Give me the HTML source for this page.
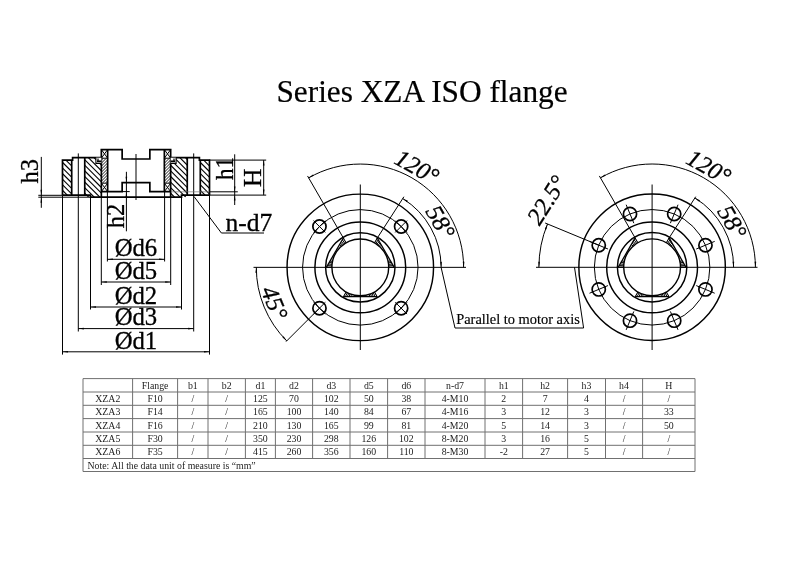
<!DOCTYPE html>
<html><head><meta charset="utf-8"><title>Series XZA ISO flange</title>
<style>
html,body{margin:0;padding:0;background:#fff;}
body{width:800px;height:566px;position:relative;overflow:hidden;font-family:"Liberation Serif",serif;}
svg{display:block;position:absolute;left:0;top:0;will-change:transform;opacity:0.999}
</style></head><body>
<svg width="800" height="566" viewBox="0 0 800 566" stroke="#000" fill="none">
<rect x="0" y="0" width="800" height="566" fill="#fff" stroke="none"/>
<text x="0" y="0" font-size="31.3" text-anchor="middle" font-family="'Liberation Serif', serif" fill="#000" stroke="#000" stroke-width="0.2"  transform="translate(422.00 102.40) rotate(0.00) scale(1 1)">Series XZA ISO flange</text>
<clipPath id="clip4"><path d="
M360.30 267.35 L394.20 267.35 L389.93 259.96 Z 
M360.30 267.35 L377.25 237.99 L381.52 245.38 Z 
M360.30 267.35 L343.35 237.99 L339.08 245.38 Z 
M360.30 267.35 L326.40 267.35 L330.67 259.96 Z 
M360.30 267.35 L343.35 296.71 L351.88 296.71 Z 
M360.30 267.35 L377.25 296.71 L368.72 296.71 Z 
"/></clipPath>
<g clip-path="url(#clip4)" stroke="#000">
<line x1="388.70" y1="267.35" x2="395.00" y2="267.35" stroke-width="1.0" />
<line x1="388.66" y1="265.86" x2="394.95" y2="265.53" stroke-width="1.0" />
<line x1="388.54" y1="264.38" x2="394.81" y2="263.72" stroke-width="1.0" />
<line x1="388.35" y1="262.91" x2="394.57" y2="261.92" stroke-width="1.0" />
<line x1="388.08" y1="261.45" x2="394.24" y2="260.14" stroke-width="1.0" />
<line x1="387.73" y1="260.00" x2="393.82" y2="258.37" stroke-width="1.0" />
<line x1="387.31" y1="258.57" x2="393.30" y2="256.63" stroke-width="1.0" />
<line x1="386.81" y1="257.17" x2="392.70" y2="254.91" stroke-width="1.0" />
<line x1="386.24" y1="255.80" x2="392.00" y2="253.24" stroke-width="1.0" />
<line x1="385.60" y1="254.46" x2="391.22" y2="251.60" stroke-width="1.0" />
<line x1="384.90" y1="253.15" x2="390.35" y2="250.00" stroke-width="1.0" />
<line x1="384.12" y1="251.88" x2="389.40" y2="248.45" stroke-width="1.0" />
<line x1="383.28" y1="250.66" x2="388.37" y2="246.95" stroke-width="1.0" />
<line x1="382.37" y1="249.48" x2="387.27" y2="245.51" stroke-width="1.0" />
<line x1="381.41" y1="248.35" x2="386.09" y2="244.13" stroke-width="1.0" />
<line x1="380.38" y1="247.27" x2="384.84" y2="242.81" stroke-width="1.0" />
<line x1="379.30" y1="246.24" x2="383.52" y2="241.56" stroke-width="1.0" />
<line x1="378.17" y1="245.28" x2="382.14" y2="240.38" stroke-width="1.0" />
<line x1="376.99" y1="244.37" x2="380.70" y2="239.28" stroke-width="1.0" />
<line x1="375.77" y1="243.53" x2="379.20" y2="238.25" stroke-width="1.0" />
<line x1="374.50" y1="242.75" x2="377.65" y2="237.30" stroke-width="1.0" />
<line x1="373.19" y1="242.05" x2="376.05" y2="236.43" stroke-width="1.0" />
<line x1="371.85" y1="241.41" x2="374.41" y2="235.65" stroke-width="1.0" />
<line x1="370.48" y1="240.84" x2="372.74" y2="234.95" stroke-width="1.0" />
<line x1="369.08" y1="240.34" x2="371.02" y2="234.35" stroke-width="1.0" />
<line x1="367.65" y1="239.92" x2="369.28" y2="233.83" stroke-width="1.0" />
<line x1="366.20" y1="239.57" x2="367.51" y2="233.41" stroke-width="1.0" />
<line x1="364.74" y1="239.30" x2="365.73" y2="233.08" stroke-width="1.0" />
<line x1="363.27" y1="239.11" x2="363.93" y2="232.84" stroke-width="1.0" />
<line x1="361.79" y1="238.99" x2="362.12" y2="232.70" stroke-width="1.0" />
<line x1="360.30" y1="238.95" x2="360.30" y2="232.65" stroke-width="1.0" />
<line x1="358.81" y1="238.99" x2="358.48" y2="232.70" stroke-width="1.0" />
<line x1="357.33" y1="239.11" x2="356.67" y2="232.84" stroke-width="1.0" />
<line x1="355.86" y1="239.30" x2="354.87" y2="233.08" stroke-width="1.0" />
<line x1="354.40" y1="239.57" x2="353.09" y2="233.41" stroke-width="1.0" />
<line x1="352.95" y1="239.92" x2="351.32" y2="233.83" stroke-width="1.0" />
<line x1="351.52" y1="240.34" x2="349.58" y2="234.35" stroke-width="1.0" />
<line x1="350.12" y1="240.84" x2="347.86" y2="234.95" stroke-width="1.0" />
<line x1="348.75" y1="241.41" x2="346.19" y2="235.65" stroke-width="1.0" />
<line x1="347.41" y1="242.05" x2="344.55" y2="236.43" stroke-width="1.0" />
<line x1="346.10" y1="242.75" x2="342.95" y2="237.30" stroke-width="1.0" />
<line x1="344.83" y1="243.53" x2="341.40" y2="238.25" stroke-width="1.0" />
<line x1="343.61" y1="244.37" x2="339.90" y2="239.28" stroke-width="1.0" />
<line x1="342.43" y1="245.28" x2="338.46" y2="240.38" stroke-width="1.0" />
<line x1="341.30" y1="246.24" x2="337.08" y2="241.56" stroke-width="1.0" />
<line x1="340.22" y1="247.27" x2="335.76" y2="242.81" stroke-width="1.0" />
<line x1="339.19" y1="248.35" x2="334.51" y2="244.13" stroke-width="1.0" />
<line x1="338.23" y1="249.48" x2="333.33" y2="245.51" stroke-width="1.0" />
<line x1="337.32" y1="250.66" x2="332.23" y2="246.95" stroke-width="1.0" />
<line x1="336.48" y1="251.88" x2="331.20" y2="248.45" stroke-width="1.0" />
<line x1="335.70" y1="253.15" x2="330.25" y2="250.00" stroke-width="1.0" />
<line x1="335.00" y1="254.46" x2="329.38" y2="251.60" stroke-width="1.0" />
<line x1="334.36" y1="255.80" x2="328.60" y2="253.24" stroke-width="1.0" />
<line x1="333.79" y1="257.17" x2="327.90" y2="254.91" stroke-width="1.0" />
<line x1="333.29" y1="258.57" x2="327.30" y2="256.63" stroke-width="1.0" />
<line x1="332.87" y1="260.00" x2="326.78" y2="258.37" stroke-width="1.0" />
<line x1="332.52" y1="261.45" x2="326.36" y2="260.14" stroke-width="1.0" />
<line x1="332.25" y1="262.91" x2="326.03" y2="261.92" stroke-width="1.0" />
<line x1="332.06" y1="264.38" x2="325.79" y2="263.72" stroke-width="1.0" />
<line x1="331.94" y1="265.86" x2="325.65" y2="265.53" stroke-width="1.0" />
<line x1="331.90" y1="267.35" x2="325.60" y2="267.35" stroke-width="1.0" />
<line x1="331.94" y1="268.84" x2="325.65" y2="269.17" stroke-width="1.0" />
<line x1="332.06" y1="270.32" x2="325.79" y2="270.98" stroke-width="1.0" />
<line x1="332.25" y1="271.79" x2="326.03" y2="272.78" stroke-width="1.0" />
<line x1="332.52" y1="273.25" x2="326.36" y2="274.56" stroke-width="1.0" />
<line x1="332.87" y1="274.70" x2="326.78" y2="276.33" stroke-width="1.0" />
<line x1="333.29" y1="276.13" x2="327.30" y2="278.07" stroke-width="1.0" />
<line x1="333.79" y1="277.53" x2="327.90" y2="279.79" stroke-width="1.0" />
<line x1="334.36" y1="278.90" x2="328.60" y2="281.46" stroke-width="1.0" />
<line x1="335.00" y1="280.24" x2="329.38" y2="283.10" stroke-width="1.0" />
<line x1="335.70" y1="281.55" x2="330.25" y2="284.70" stroke-width="1.0" />
<line x1="336.48" y1="282.82" x2="331.20" y2="286.25" stroke-width="1.0" />
<line x1="337.32" y1="284.04" x2="332.23" y2="287.75" stroke-width="1.0" />
<line x1="338.23" y1="285.22" x2="333.33" y2="289.19" stroke-width="1.0" />
<line x1="339.19" y1="286.35" x2="334.51" y2="290.57" stroke-width="1.0" />
<line x1="340.22" y1="287.43" x2="335.76" y2="291.89" stroke-width="1.0" />
<line x1="341.30" y1="288.46" x2="337.08" y2="293.14" stroke-width="1.0" />
<line x1="342.43" y1="289.42" x2="338.46" y2="294.32" stroke-width="1.0" />
<line x1="343.61" y1="290.33" x2="339.90" y2="295.42" stroke-width="1.0" />
<line x1="344.83" y1="291.17" x2="341.40" y2="296.45" stroke-width="1.0" />
<line x1="346.10" y1="291.95" x2="342.95" y2="297.40" stroke-width="1.0" />
<line x1="347.41" y1="292.65" x2="344.55" y2="298.27" stroke-width="1.0" />
<line x1="348.75" y1="293.29" x2="346.19" y2="299.05" stroke-width="1.0" />
<line x1="350.12" y1="293.86" x2="347.86" y2="299.75" stroke-width="1.0" />
<line x1="351.52" y1="294.36" x2="349.58" y2="300.35" stroke-width="1.0" />
<line x1="352.95" y1="294.78" x2="351.32" y2="300.87" stroke-width="1.0" />
<line x1="354.40" y1="295.13" x2="353.09" y2="301.29" stroke-width="1.0" />
<line x1="355.86" y1="295.40" x2="354.87" y2="301.62" stroke-width="1.0" />
<line x1="357.33" y1="295.59" x2="356.67" y2="301.86" stroke-width="1.0" />
<line x1="358.81" y1="295.71" x2="358.48" y2="302.00" stroke-width="1.0" />
<line x1="360.30" y1="295.75" x2="360.30" y2="302.05" stroke-width="1.0" />
<line x1="361.79" y1="295.71" x2="362.12" y2="302.00" stroke-width="1.0" />
<line x1="363.27" y1="295.59" x2="363.93" y2="301.86" stroke-width="1.0" />
<line x1="364.74" y1="295.40" x2="365.73" y2="301.62" stroke-width="1.0" />
<line x1="366.20" y1="295.13" x2="367.51" y2="301.29" stroke-width="1.0" />
<line x1="367.65" y1="294.78" x2="369.28" y2="300.87" stroke-width="1.0" />
<line x1="369.08" y1="294.36" x2="371.02" y2="300.35" stroke-width="1.0" />
<line x1="370.48" y1="293.86" x2="372.74" y2="299.75" stroke-width="1.0" />
<line x1="371.85" y1="293.29" x2="374.41" y2="299.05" stroke-width="1.0" />
<line x1="373.19" y1="292.65" x2="376.05" y2="298.27" stroke-width="1.0" />
<line x1="374.50" y1="291.95" x2="377.65" y2="297.40" stroke-width="1.0" />
<line x1="375.77" y1="291.17" x2="379.20" y2="296.45" stroke-width="1.0" />
<line x1="376.99" y1="290.33" x2="380.70" y2="295.42" stroke-width="1.0" />
<line x1="378.17" y1="289.42" x2="382.14" y2="294.32" stroke-width="1.0" />
<line x1="379.30" y1="288.46" x2="383.52" y2="293.14" stroke-width="1.0" />
<line x1="380.38" y1="287.43" x2="384.84" y2="291.89" stroke-width="1.0" />
<line x1="381.41" y1="286.35" x2="386.09" y2="290.57" stroke-width="1.0" />
<line x1="382.37" y1="285.22" x2="387.27" y2="289.19" stroke-width="1.0" />
<line x1="383.28" y1="284.04" x2="388.37" y2="287.75" stroke-width="1.0" />
<line x1="384.12" y1="282.82" x2="389.40" y2="286.25" stroke-width="1.0" />
<line x1="384.90" y1="281.55" x2="390.35" y2="284.70" stroke-width="1.0" />
<line x1="385.60" y1="280.24" x2="391.22" y2="283.10" stroke-width="1.0" />
<line x1="386.24" y1="278.90" x2="392.00" y2="281.46" stroke-width="1.0" />
<line x1="386.81" y1="277.53" x2="392.70" y2="279.79" stroke-width="1.0" />
<line x1="387.31" y1="276.13" x2="393.30" y2="278.07" stroke-width="1.0" />
<line x1="387.73" y1="274.70" x2="393.82" y2="276.33" stroke-width="1.0" />
<line x1="388.08" y1="273.25" x2="394.24" y2="274.56" stroke-width="1.0" />
<line x1="388.35" y1="271.79" x2="394.57" y2="272.78" stroke-width="1.0" />
<line x1="388.54" y1="270.32" x2="394.81" y2="270.98" stroke-width="1.0" />
<line x1="388.66" y1="268.84" x2="394.95" y2="269.17" stroke-width="1.0" />
</g>
<circle cx="360.3" cy="267.35" r="28.4" fill="#fff" stroke="none"/>
<circle cx="360.30" cy="267.35" r="73.25" stroke-width="1.45" fill="none"/>
<circle cx="360.30" cy="267.35" r="57.75" stroke-width="1.0" fill="none"/>
<circle cx="360.30" cy="267.35" r="45.40" stroke-width="1.45" fill="none"/>
<circle cx="360.30" cy="267.35" r="34.70" stroke-width="1.45" fill="none"/>
<circle cx="360.30" cy="267.35" r="28.40" stroke-width="1.4" fill="none"/>
<line x1="394.20" y1="267.35" x2="377.25" y2="237.99" stroke-width="1.3" />
<line x1="394.20" y1="267.35" x2="388.70" y2="267.35" stroke-width="1.0" />
<line x1="377.25" y1="237.99" x2="374.50" y2="242.75" stroke-width="1.0" />
<line x1="343.35" y1="237.99" x2="326.40" y2="267.35" stroke-width="1.3" />
<line x1="343.35" y1="237.99" x2="346.10" y2="242.75" stroke-width="1.0" />
<line x1="326.40" y1="267.35" x2="331.90" y2="267.35" stroke-width="1.0" />
<line x1="343.35" y1="296.71" x2="377.25" y2="296.71" stroke-width="1.3" />
<line x1="343.35" y1="296.71" x2="346.10" y2="291.95" stroke-width="1.0" />
<line x1="377.25" y1="296.71" x2="374.50" y2="291.95" stroke-width="1.0" />
<circle cx="401.14" cy="226.51" r="6.60" stroke-width="1.7" fill="none"/>
<line x1="395.24" y1="220.61" x2="407.04" y2="232.41" stroke-width="1.0" />
<line x1="395.24" y1="232.41" x2="407.04" y2="220.61" stroke-width="1.0" />
<circle cx="319.46" cy="226.51" r="6.60" stroke-width="1.7" fill="none"/>
<line x1="313.56" y1="220.61" x2="325.36" y2="232.41" stroke-width="1.0" />
<line x1="313.56" y1="232.41" x2="325.36" y2="220.61" stroke-width="1.0" />
<circle cx="319.46" cy="308.19" r="6.60" stroke-width="1.7" fill="none"/>
<line x1="313.56" y1="302.29" x2="325.36" y2="314.09" stroke-width="1.0" />
<line x1="313.56" y1="314.09" x2="325.36" y2="302.29" stroke-width="1.0" />
<circle cx="401.14" cy="308.19" r="6.60" stroke-width="1.7" fill="none"/>
<line x1="395.24" y1="302.29" x2="407.04" y2="314.09" stroke-width="1.0" />
<line x1="395.24" y1="314.09" x2="407.04" y2="302.29" stroke-width="1.0" />
<line x1="253.50" y1="267.35" x2="466.00" y2="267.35" stroke-width="1.0" />
<line x1="360.30" y1="184.50" x2="360.30" y2="350.00" stroke-width="1.0" />
<line x1="343.80" y1="238.77" x2="307.55" y2="175.98" stroke-width="1.0" />
<path d="M463.60 267.35 A103.30 103.30 0 0 0 308.65 177.89" stroke-width="1.0" fill="none"/>
<polygon points="308.55,177.72 313.03,174.43 313.78,175.84" fill="#000" stroke="none"/>
<polygon points="463.80,267.35 462.81,261.88 464.41,261.83" fill="#000" stroke="none"/>
<line x1="376.80" y1="238.77" x2="403.91" y2="196.73" stroke-width="1.0" />
<path d="M441.10 267.35 A80.80 80.80 0 0 0 402.76 198.60" stroke-width="1.0" fill="none"/>
<polygon points="402.86,198.43 407.88,200.82 407.00,202.15" fill="#000" stroke="none"/>
<polygon points="441.30,267.35 440.31,261.88 441.91,261.83" fill="#000" stroke="none"/>
<line x1="319.46" y1="308.19" x2="286.05" y2="341.60" stroke-width="1.0" />
<path d="M256.30 267.35 A104.00 104.00 0 0 0 286.76 340.89" stroke-width="1.0" fill="none"/>
<polygon points="256.30,267.35 256.91,272.87 255.31,272.82" fill="#000" stroke="none"/>
<polygon points="286.76,340.89 282.42,337.41 283.59,336.32" fill="#000" stroke="none"/>
<text x="0" y="0" font-size="24.3" text-anchor="middle" font-family="'Liberation Serif', serif" fill="#000" stroke="#000" stroke-width="0.3" font-style="italic" transform="translate(412.99 174.22) rotate(29.50) scale(1 1)">120°</text>
<text x="0" y="0" font-size="24.3" text-anchor="middle" font-family="'Liberation Serif', serif" fill="#000" stroke="#000" stroke-width="0.3" font-style="italic" transform="translate(433.41 225.99) rotate(60.50) scale(1 1)">58°</text>
<text x="0" y="0" font-size="24.3" text-anchor="middle" font-family="'Liberation Serif', serif" fill="#000" stroke="#000" stroke-width="0.3" font-style="italic" transform="translate(266.99 306.00) rotate(67.50) scale(1 1)">45°</text>
<line x1="441.10" y1="267.35" x2="455.00" y2="328.00" stroke-width="1.0" />
<line x1="455.00" y1="328.00" x2="583.60" y2="328.00" stroke-width="1.0" />
<line x1="583.60" y1="328.00" x2="574.50" y2="267.30" stroke-width="1.0" />
<text x="0" y="0" font-size="14.42" text-anchor="start" font-family="'Liberation Serif', serif" fill="#000" stroke="#000" stroke-width="0.15"  transform="translate(456.20 324.40) rotate(0.00) scale(1 1)">Parallel to motor axis</text>
<clipPath id="clip8"><path d="
M652.10 267.30 L686.00 267.30 L681.73 259.91 Z 
M652.10 267.30 L669.05 237.94 L673.32 245.33 Z 
M652.10 267.30 L635.15 237.94 L630.88 245.33 Z 
M652.10 267.30 L618.20 267.30 L622.47 259.91 Z 
M652.10 267.30 L635.15 296.66 L643.68 296.66 Z 
M652.10 267.30 L669.05 296.66 L660.52 296.66 Z 
"/></clipPath>
<g clip-path="url(#clip8)" stroke="#000">
<line x1="680.50" y1="267.30" x2="686.80" y2="267.30" stroke-width="1.0" />
<line x1="680.46" y1="265.81" x2="686.75" y2="265.48" stroke-width="1.0" />
<line x1="680.34" y1="264.33" x2="686.61" y2="263.67" stroke-width="1.0" />
<line x1="680.15" y1="262.86" x2="686.37" y2="261.87" stroke-width="1.0" />
<line x1="679.88" y1="261.40" x2="686.04" y2="260.09" stroke-width="1.0" />
<line x1="679.53" y1="259.95" x2="685.62" y2="258.32" stroke-width="1.0" />
<line x1="679.11" y1="258.52" x2="685.10" y2="256.58" stroke-width="1.0" />
<line x1="678.61" y1="257.12" x2="684.50" y2="254.86" stroke-width="1.0" />
<line x1="678.04" y1="255.75" x2="683.80" y2="253.19" stroke-width="1.0" />
<line x1="677.40" y1="254.41" x2="683.02" y2="251.55" stroke-width="1.0" />
<line x1="676.70" y1="253.10" x2="682.15" y2="249.95" stroke-width="1.0" />
<line x1="675.92" y1="251.83" x2="681.20" y2="248.40" stroke-width="1.0" />
<line x1="675.08" y1="250.61" x2="680.17" y2="246.90" stroke-width="1.0" />
<line x1="674.17" y1="249.43" x2="679.07" y2="245.46" stroke-width="1.0" />
<line x1="673.21" y1="248.30" x2="677.89" y2="244.08" stroke-width="1.0" />
<line x1="672.18" y1="247.22" x2="676.64" y2="242.76" stroke-width="1.0" />
<line x1="671.10" y1="246.19" x2="675.32" y2="241.51" stroke-width="1.0" />
<line x1="669.97" y1="245.23" x2="673.94" y2="240.33" stroke-width="1.0" />
<line x1="668.79" y1="244.32" x2="672.50" y2="239.23" stroke-width="1.0" />
<line x1="667.57" y1="243.48" x2="671.00" y2="238.20" stroke-width="1.0" />
<line x1="666.30" y1="242.70" x2="669.45" y2="237.25" stroke-width="1.0" />
<line x1="664.99" y1="242.00" x2="667.85" y2="236.38" stroke-width="1.0" />
<line x1="663.65" y1="241.36" x2="666.21" y2="235.60" stroke-width="1.0" />
<line x1="662.28" y1="240.79" x2="664.54" y2="234.90" stroke-width="1.0" />
<line x1="660.88" y1="240.29" x2="662.82" y2="234.30" stroke-width="1.0" />
<line x1="659.45" y1="239.87" x2="661.08" y2="233.78" stroke-width="1.0" />
<line x1="658.00" y1="239.52" x2="659.31" y2="233.36" stroke-width="1.0" />
<line x1="656.54" y1="239.25" x2="657.53" y2="233.03" stroke-width="1.0" />
<line x1="655.07" y1="239.06" x2="655.73" y2="232.79" stroke-width="1.0" />
<line x1="653.59" y1="238.94" x2="653.92" y2="232.65" stroke-width="1.0" />
<line x1="652.10" y1="238.90" x2="652.10" y2="232.60" stroke-width="1.0" />
<line x1="650.61" y1="238.94" x2="650.28" y2="232.65" stroke-width="1.0" />
<line x1="649.13" y1="239.06" x2="648.47" y2="232.79" stroke-width="1.0" />
<line x1="647.66" y1="239.25" x2="646.67" y2="233.03" stroke-width="1.0" />
<line x1="646.20" y1="239.52" x2="644.89" y2="233.36" stroke-width="1.0" />
<line x1="644.75" y1="239.87" x2="643.12" y2="233.78" stroke-width="1.0" />
<line x1="643.32" y1="240.29" x2="641.38" y2="234.30" stroke-width="1.0" />
<line x1="641.92" y1="240.79" x2="639.66" y2="234.90" stroke-width="1.0" />
<line x1="640.55" y1="241.36" x2="637.99" y2="235.60" stroke-width="1.0" />
<line x1="639.21" y1="242.00" x2="636.35" y2="236.38" stroke-width="1.0" />
<line x1="637.90" y1="242.70" x2="634.75" y2="237.25" stroke-width="1.0" />
<line x1="636.63" y1="243.48" x2="633.20" y2="238.20" stroke-width="1.0" />
<line x1="635.41" y1="244.32" x2="631.70" y2="239.23" stroke-width="1.0" />
<line x1="634.23" y1="245.23" x2="630.26" y2="240.33" stroke-width="1.0" />
<line x1="633.10" y1="246.19" x2="628.88" y2="241.51" stroke-width="1.0" />
<line x1="632.02" y1="247.22" x2="627.56" y2="242.76" stroke-width="1.0" />
<line x1="630.99" y1="248.30" x2="626.31" y2="244.08" stroke-width="1.0" />
<line x1="630.03" y1="249.43" x2="625.13" y2="245.46" stroke-width="1.0" />
<line x1="629.12" y1="250.61" x2="624.03" y2="246.90" stroke-width="1.0" />
<line x1="628.28" y1="251.83" x2="623.00" y2="248.40" stroke-width="1.0" />
<line x1="627.50" y1="253.10" x2="622.05" y2="249.95" stroke-width="1.0" />
<line x1="626.80" y1="254.41" x2="621.18" y2="251.55" stroke-width="1.0" />
<line x1="626.16" y1="255.75" x2="620.40" y2="253.19" stroke-width="1.0" />
<line x1="625.59" y1="257.12" x2="619.70" y2="254.86" stroke-width="1.0" />
<line x1="625.09" y1="258.52" x2="619.10" y2="256.58" stroke-width="1.0" />
<line x1="624.67" y1="259.95" x2="618.58" y2="258.32" stroke-width="1.0" />
<line x1="624.32" y1="261.40" x2="618.16" y2="260.09" stroke-width="1.0" />
<line x1="624.05" y1="262.86" x2="617.83" y2="261.87" stroke-width="1.0" />
<line x1="623.86" y1="264.33" x2="617.59" y2="263.67" stroke-width="1.0" />
<line x1="623.74" y1="265.81" x2="617.45" y2="265.48" stroke-width="1.0" />
<line x1="623.70" y1="267.30" x2="617.40" y2="267.30" stroke-width="1.0" />
<line x1="623.74" y1="268.79" x2="617.45" y2="269.12" stroke-width="1.0" />
<line x1="623.86" y1="270.27" x2="617.59" y2="270.93" stroke-width="1.0" />
<line x1="624.05" y1="271.74" x2="617.83" y2="272.73" stroke-width="1.0" />
<line x1="624.32" y1="273.20" x2="618.16" y2="274.51" stroke-width="1.0" />
<line x1="624.67" y1="274.65" x2="618.58" y2="276.28" stroke-width="1.0" />
<line x1="625.09" y1="276.08" x2="619.10" y2="278.02" stroke-width="1.0" />
<line x1="625.59" y1="277.48" x2="619.70" y2="279.74" stroke-width="1.0" />
<line x1="626.16" y1="278.85" x2="620.40" y2="281.41" stroke-width="1.0" />
<line x1="626.80" y1="280.19" x2="621.18" y2="283.05" stroke-width="1.0" />
<line x1="627.50" y1="281.50" x2="622.05" y2="284.65" stroke-width="1.0" />
<line x1="628.28" y1="282.77" x2="623.00" y2="286.20" stroke-width="1.0" />
<line x1="629.12" y1="283.99" x2="624.03" y2="287.70" stroke-width="1.0" />
<line x1="630.03" y1="285.17" x2="625.13" y2="289.14" stroke-width="1.0" />
<line x1="630.99" y1="286.30" x2="626.31" y2="290.52" stroke-width="1.0" />
<line x1="632.02" y1="287.38" x2="627.56" y2="291.84" stroke-width="1.0" />
<line x1="633.10" y1="288.41" x2="628.88" y2="293.09" stroke-width="1.0" />
<line x1="634.23" y1="289.37" x2="630.26" y2="294.27" stroke-width="1.0" />
<line x1="635.41" y1="290.28" x2="631.70" y2="295.37" stroke-width="1.0" />
<line x1="636.63" y1="291.12" x2="633.20" y2="296.40" stroke-width="1.0" />
<line x1="637.90" y1="291.90" x2="634.75" y2="297.35" stroke-width="1.0" />
<line x1="639.21" y1="292.60" x2="636.35" y2="298.22" stroke-width="1.0" />
<line x1="640.55" y1="293.24" x2="637.99" y2="299.00" stroke-width="1.0" />
<line x1="641.92" y1="293.81" x2="639.66" y2="299.70" stroke-width="1.0" />
<line x1="643.32" y1="294.31" x2="641.38" y2="300.30" stroke-width="1.0" />
<line x1="644.75" y1="294.73" x2="643.12" y2="300.82" stroke-width="1.0" />
<line x1="646.20" y1="295.08" x2="644.89" y2="301.24" stroke-width="1.0" />
<line x1="647.66" y1="295.35" x2="646.67" y2="301.57" stroke-width="1.0" />
<line x1="649.13" y1="295.54" x2="648.47" y2="301.81" stroke-width="1.0" />
<line x1="650.61" y1="295.66" x2="650.28" y2="301.95" stroke-width="1.0" />
<line x1="652.10" y1="295.70" x2="652.10" y2="302.00" stroke-width="1.0" />
<line x1="653.59" y1="295.66" x2="653.92" y2="301.95" stroke-width="1.0" />
<line x1="655.07" y1="295.54" x2="655.73" y2="301.81" stroke-width="1.0" />
<line x1="656.54" y1="295.35" x2="657.53" y2="301.57" stroke-width="1.0" />
<line x1="658.00" y1="295.08" x2="659.31" y2="301.24" stroke-width="1.0" />
<line x1="659.45" y1="294.73" x2="661.08" y2="300.82" stroke-width="1.0" />
<line x1="660.88" y1="294.31" x2="662.82" y2="300.30" stroke-width="1.0" />
<line x1="662.28" y1="293.81" x2="664.54" y2="299.70" stroke-width="1.0" />
<line x1="663.65" y1="293.24" x2="666.21" y2="299.00" stroke-width="1.0" />
<line x1="664.99" y1="292.60" x2="667.85" y2="298.22" stroke-width="1.0" />
<line x1="666.30" y1="291.90" x2="669.45" y2="297.35" stroke-width="1.0" />
<line x1="667.57" y1="291.12" x2="671.00" y2="296.40" stroke-width="1.0" />
<line x1="668.79" y1="290.28" x2="672.50" y2="295.37" stroke-width="1.0" />
<line x1="669.97" y1="289.37" x2="673.94" y2="294.27" stroke-width="1.0" />
<line x1="671.10" y1="288.41" x2="675.32" y2="293.09" stroke-width="1.0" />
<line x1="672.18" y1="287.38" x2="676.64" y2="291.84" stroke-width="1.0" />
<line x1="673.21" y1="286.30" x2="677.89" y2="290.52" stroke-width="1.0" />
<line x1="674.17" y1="285.17" x2="679.07" y2="289.14" stroke-width="1.0" />
<line x1="675.08" y1="283.99" x2="680.17" y2="287.70" stroke-width="1.0" />
<line x1="675.92" y1="282.77" x2="681.20" y2="286.20" stroke-width="1.0" />
<line x1="676.70" y1="281.50" x2="682.15" y2="284.65" stroke-width="1.0" />
<line x1="677.40" y1="280.19" x2="683.02" y2="283.05" stroke-width="1.0" />
<line x1="678.04" y1="278.85" x2="683.80" y2="281.41" stroke-width="1.0" />
<line x1="678.61" y1="277.48" x2="684.50" y2="279.74" stroke-width="1.0" />
<line x1="679.11" y1="276.08" x2="685.10" y2="278.02" stroke-width="1.0" />
<line x1="679.53" y1="274.65" x2="685.62" y2="276.28" stroke-width="1.0" />
<line x1="679.88" y1="273.20" x2="686.04" y2="274.51" stroke-width="1.0" />
<line x1="680.15" y1="271.74" x2="686.37" y2="272.73" stroke-width="1.0" />
<line x1="680.34" y1="270.27" x2="686.61" y2="270.93" stroke-width="1.0" />
<line x1="680.46" y1="268.79" x2="686.75" y2="269.12" stroke-width="1.0" />
</g>
<circle cx="652.1" cy="267.3" r="28.4" fill="#fff" stroke="none"/>
<circle cx="652.10" cy="267.30" r="73.25" stroke-width="1.45" fill="none"/>
<circle cx="652.10" cy="267.30" r="57.75" stroke-width="1.0" fill="none"/>
<circle cx="652.10" cy="267.30" r="45.40" stroke-width="1.45" fill="none"/>
<circle cx="652.10" cy="267.30" r="34.70" stroke-width="1.45" fill="none"/>
<circle cx="652.10" cy="267.30" r="28.40" stroke-width="1.4" fill="none"/>
<line x1="686.00" y1="267.30" x2="669.05" y2="237.94" stroke-width="1.3" />
<line x1="686.00" y1="267.30" x2="680.50" y2="267.30" stroke-width="1.0" />
<line x1="669.05" y1="237.94" x2="666.30" y2="242.70" stroke-width="1.0" />
<line x1="635.15" y1="237.94" x2="618.20" y2="267.30" stroke-width="1.3" />
<line x1="635.15" y1="237.94" x2="637.90" y2="242.70" stroke-width="1.0" />
<line x1="618.20" y1="267.30" x2="623.70" y2="267.30" stroke-width="1.0" />
<line x1="635.15" y1="296.66" x2="669.05" y2="296.66" stroke-width="1.3" />
<line x1="635.15" y1="296.66" x2="637.90" y2="291.90" stroke-width="1.0" />
<line x1="669.05" y1="296.66" x2="666.30" y2="291.90" stroke-width="1.0" />
<circle cx="705.45" cy="245.20" r="6.60" stroke-width="1.7" fill="none"/>
<line x1="696.22" y1="249.03" x2="714.69" y2="241.37" stroke-width="1.0" />
<circle cx="674.20" cy="213.95" r="6.60" stroke-width="1.7" fill="none"/>
<line x1="670.37" y1="223.18" x2="678.03" y2="204.71" stroke-width="1.0" />
<circle cx="630.00" cy="213.95" r="6.60" stroke-width="1.7" fill="none"/>
<line x1="633.83" y1="223.18" x2="626.17" y2="204.71" stroke-width="1.0" />
<circle cx="598.75" cy="245.20" r="6.60" stroke-width="1.7" fill="none"/>
<line x1="607.98" y1="249.03" x2="589.51" y2="241.37" stroke-width="1.0" />
<circle cx="598.75" cy="289.40" r="6.60" stroke-width="1.7" fill="none"/>
<line x1="607.98" y1="285.57" x2="589.51" y2="293.23" stroke-width="1.0" />
<circle cx="630.00" cy="320.65" r="6.60" stroke-width="1.7" fill="none"/>
<line x1="633.83" y1="311.42" x2="626.17" y2="329.89" stroke-width="1.0" />
<circle cx="674.20" cy="320.65" r="6.60" stroke-width="1.7" fill="none"/>
<line x1="670.37" y1="311.42" x2="678.03" y2="329.89" stroke-width="1.0" />
<circle cx="705.45" cy="289.40" r="6.60" stroke-width="1.7" fill="none"/>
<line x1="696.22" y1="285.57" x2="714.69" y2="293.23" stroke-width="1.0" />
<line x1="536.00" y1="267.30" x2="757.50" y2="267.30" stroke-width="1.0" />
<line x1="652.10" y1="184.50" x2="652.10" y2="350.00" stroke-width="1.0" />
<line x1="635.60" y1="238.72" x2="599.35" y2="175.93" stroke-width="1.0" />
<path d="M755.40 267.30 A103.30 103.30 0 0 0 600.45 177.84" stroke-width="1.0" fill="none"/>
<polygon points="600.35,177.67 604.83,174.38 605.58,175.79" fill="#000" stroke="none"/>
<polygon points="755.60,267.30 754.61,261.83 756.21,261.78" fill="#000" stroke="none"/>
<line x1="668.60" y1="238.72" x2="695.71" y2="196.68" stroke-width="1.0" />
<path d="M733.60 267.30 A81.50 81.50 0 0 0 694.93 197.96" stroke-width="1.0" fill="none"/>
<polygon points="694.93,197.96 699.95,200.34 699.06,201.68" fill="#000" stroke="none"/>
<polygon points="733.60,267.30 732.61,261.83 734.21,261.78" fill="#000" stroke="none"/>
<line x1="598.75" y1="245.20" x2="545.11" y2="222.99" stroke-width="1.0" />
<path d="M547.52 223.98 A113.20 113.20 0 0 0 538.90 267.30" stroke-width="1.0" fill="none"/>
<polygon points="538.90,267.30 538.29,261.78 539.89,261.83" fill="#000" stroke="none"/>
<polygon points="547.52,223.98 546.34,229.41 544.84,228.85" fill="#000" stroke="none"/>
<text x="0" y="0" font-size="24.3" text-anchor="middle" font-family="'Liberation Serif', serif" fill="#000" stroke="#000" stroke-width="0.3" font-style="italic" transform="translate(704.79 174.17) rotate(29.50) scale(1 1)">120°</text>
<text x="0" y="0" font-size="24.3" text-anchor="middle" font-family="'Liberation Serif', serif" fill="#000" stroke="#000" stroke-width="0.3" font-style="italic" transform="translate(725.21 225.94) rotate(60.50) scale(1 1)">58°</text>
<text x="0" y="0" font-size="24.3" text-anchor="middle" font-family="'Liberation Serif', serif" fill="#000" stroke="#000" stroke-width="0.3" font-style="italic" transform="translate(553.42 204.44) rotate(-57.50) scale(1 1)">22.5°</text>
<clipPath id="hoL"><rect x="62.5" y="160.2" width="9.200000000000003" height="35.0"/></clipPath>
<g clip-path="url(#hoL)">
<line x1="15.50" y1="160.20" x2="50.50" y2="195.20" stroke-width="1.15" />
<line x1="21.10" y1="160.20" x2="56.10" y2="195.20" stroke-width="1.15" />
<line x1="26.70" y1="160.20" x2="61.70" y2="195.20" stroke-width="1.15" />
<line x1="32.30" y1="160.20" x2="67.30" y2="195.20" stroke-width="1.15" />
<line x1="37.90" y1="160.20" x2="72.90" y2="195.20" stroke-width="1.15" />
<line x1="43.50" y1="160.20" x2="78.50" y2="195.20" stroke-width="1.15" />
<line x1="49.10" y1="160.20" x2="84.10" y2="195.20" stroke-width="1.15" />
<line x1="54.70" y1="160.20" x2="89.70" y2="195.20" stroke-width="1.15" />
<line x1="60.30" y1="160.20" x2="95.30" y2="195.20" stroke-width="1.15" />
<line x1="65.90" y1="160.20" x2="100.90" y2="195.20" stroke-width="1.15" />
<line x1="71.50" y1="160.20" x2="106.50" y2="195.20" stroke-width="1.15" />
</g>
<clipPath id="hiL"><rect x="84.75" y="157.7" width="16.599999999999994" height="39.5"/></clipPath>
<g clip-path="url(#hiL)">
<line x1="32.35" y1="157.70" x2="71.85" y2="197.20" stroke-width="1.15" />
<line x1="37.95" y1="157.70" x2="77.45" y2="197.20" stroke-width="1.15" />
<line x1="43.55" y1="157.70" x2="83.05" y2="197.20" stroke-width="1.15" />
<line x1="49.15" y1="157.70" x2="88.65" y2="197.20" stroke-width="1.15" />
<line x1="54.75" y1="157.70" x2="94.25" y2="197.20" stroke-width="1.15" />
<line x1="60.35" y1="157.70" x2="99.85" y2="197.20" stroke-width="1.15" />
<line x1="65.95" y1="157.70" x2="105.45" y2="197.20" stroke-width="1.15" />
<line x1="71.55" y1="157.70" x2="111.05" y2="197.20" stroke-width="1.15" />
<line x1="77.15" y1="157.70" x2="116.65" y2="197.20" stroke-width="1.15" />
<line x1="82.75" y1="157.70" x2="122.25" y2="197.20" stroke-width="1.15" />
<line x1="88.35" y1="157.70" x2="127.85" y2="197.20" stroke-width="1.15" />
<line x1="93.95" y1="157.70" x2="133.45" y2="197.20" stroke-width="1.15" />
<line x1="99.55" y1="157.70" x2="139.05" y2="197.20" stroke-width="1.15" />
<line x1="105.15" y1="157.70" x2="144.65" y2="197.20" stroke-width="1.15" />
</g>
<clipPath id="hbL"><rect x="101.35" y="158.2" width="6.300000000000011" height="25.0"/></clipPath>
<g clip-path="url(#hbL)">
<line x1="91.35" y1="158.20" x2="66.35" y2="183.20" stroke-width="0.9" />
<line x1="94.35" y1="158.20" x2="69.35" y2="183.20" stroke-width="0.9" />
<line x1="97.35" y1="158.20" x2="72.35" y2="183.20" stroke-width="0.9" />
<line x1="100.35" y1="158.20" x2="75.35" y2="183.20" stroke-width="0.9" />
<line x1="103.35" y1="158.20" x2="78.35" y2="183.20" stroke-width="0.9" />
<line x1="106.35" y1="158.20" x2="81.35" y2="183.20" stroke-width="0.9" />
<line x1="109.35" y1="158.20" x2="84.35" y2="183.20" stroke-width="0.9" />
<line x1="112.35" y1="158.20" x2="87.35" y2="183.20" stroke-width="0.9" />
<line x1="115.35" y1="158.20" x2="90.35" y2="183.20" stroke-width="0.9" />
<line x1="118.35" y1="158.20" x2="93.35" y2="183.20" stroke-width="0.9" />
<line x1="121.35" y1="158.20" x2="96.35" y2="183.20" stroke-width="0.9" />
<line x1="124.35" y1="158.20" x2="99.35" y2="183.20" stroke-width="0.9" />
<line x1="127.35" y1="158.20" x2="102.35" y2="183.20" stroke-width="0.9" />
<line x1="130.35" y1="158.20" x2="105.35" y2="183.20" stroke-width="0.9" />
<line x1="133.35" y1="158.20" x2="108.35" y2="183.20" stroke-width="0.9" />
<line x1="136.35" y1="158.20" x2="111.35" y2="183.20" stroke-width="0.9" />
</g>
<path d="M62.50 195.2 L62.50 160.2 L72.60 160.2 L72.60 157.7 L101.35 157.7 L101.35 149.6 L122.15 149.6 L122.15 159 L136.0 159" stroke-width="1.7"/>
<path d="M101.35 191.6 L122.15 191.6 L122.15 182.6 L136.0 182.6" stroke-width="1.7"/>
<line x1="71.70" y1="160.20" x2="71.70" y2="195.20" stroke-width="1.7" />
<line x1="84.75" y1="157.70" x2="84.75" y2="195.20" stroke-width="1.7" />
<line x1="101.35" y1="157.70" x2="101.35" y2="197.20" stroke-width="1.7" />
<line x1="107.65" y1="149.60" x2="107.65" y2="191.60" stroke-width="1.7" />
<path d="M62.50 195.2 L90.50 195.2 L90.50 197.2 L136.0 197.2" stroke-width="1.7"/>
<line x1="101.35" y1="158.20" x2="107.65" y2="158.20" stroke-width="1.0" />
<line x1="101.35" y1="183.20" x2="107.65" y2="183.20" stroke-width="1.0" />
<line x1="101.35" y1="149.60" x2="107.65" y2="158.20" stroke-width="1.0" />
<line x1="107.65" y1="149.60" x2="101.35" y2="158.20" stroke-width="1.0" />
<line x1="101.35" y1="183.20" x2="107.65" y2="191.60" stroke-width="1.0" />
<line x1="107.65" y1="183.20" x2="101.35" y2="191.60" stroke-width="1.0" />
<rect x="95.90" y="157.7" width="5.45" height="5.7" fill="#fff" stroke="none"/>
<path d="M95.90 157.7 L95.90 163.39999999999998 L101.35 163.39999999999998" stroke-width="1.1"/>
<path d="M97.00 161.29999999999998 L101.35 161.29999999999998" stroke-width="1.7"/>
<path d="M98.00 158.5 L98.00 161.29999999999998" stroke-width="1.2"/>
<line x1="62.50" y1="195.20" x2="62.50" y2="354.60" stroke-width="1.0" />
<line x1="78.30" y1="153.40" x2="78.30" y2="331.50" stroke-width="1.0" />
<line x1="90.50" y1="197.20" x2="90.50" y2="309.50" stroke-width="1.0" />
<line x1="101.30" y1="197.20" x2="101.30" y2="285.00" stroke-width="1.0" />
<line x1="107.40" y1="191.60" x2="107.40" y2="261.50" stroke-width="1.0" />
<clipPath id="hoR"><rect x="200.3" y="160.2" width="9.199999999999989" height="35.0"/></clipPath>
<g clip-path="url(#hoR)">
<line x1="153.30" y1="160.20" x2="188.30" y2="195.20" stroke-width="1.15" />
<line x1="158.90" y1="160.20" x2="193.90" y2="195.20" stroke-width="1.15" />
<line x1="164.50" y1="160.20" x2="199.50" y2="195.20" stroke-width="1.15" />
<line x1="170.10" y1="160.20" x2="205.10" y2="195.20" stroke-width="1.15" />
<line x1="175.70" y1="160.20" x2="210.70" y2="195.20" stroke-width="1.15" />
<line x1="181.30" y1="160.20" x2="216.30" y2="195.20" stroke-width="1.15" />
<line x1="186.90" y1="160.20" x2="221.90" y2="195.20" stroke-width="1.15" />
<line x1="192.50" y1="160.20" x2="227.50" y2="195.20" stroke-width="1.15" />
<line x1="198.10" y1="160.20" x2="233.10" y2="195.20" stroke-width="1.15" />
<line x1="203.70" y1="160.20" x2="238.70" y2="195.20" stroke-width="1.15" />
<line x1="209.30" y1="160.20" x2="244.30" y2="195.20" stroke-width="1.15" />
</g>
<clipPath id="hiR"><rect x="170.65" y="157.7" width="16.599999999999994" height="39.5"/></clipPath>
<g clip-path="url(#hiR)">
<line x1="118.25" y1="157.70" x2="157.75" y2="197.20" stroke-width="1.15" />
<line x1="123.85" y1="157.70" x2="163.35" y2="197.20" stroke-width="1.15" />
<line x1="129.45" y1="157.70" x2="168.95" y2="197.20" stroke-width="1.15" />
<line x1="135.05" y1="157.70" x2="174.55" y2="197.20" stroke-width="1.15" />
<line x1="140.65" y1="157.70" x2="180.15" y2="197.20" stroke-width="1.15" />
<line x1="146.25" y1="157.70" x2="185.75" y2="197.20" stroke-width="1.15" />
<line x1="151.85" y1="157.70" x2="191.35" y2="197.20" stroke-width="1.15" />
<line x1="157.45" y1="157.70" x2="196.95" y2="197.20" stroke-width="1.15" />
<line x1="163.05" y1="157.70" x2="202.55" y2="197.20" stroke-width="1.15" />
<line x1="168.65" y1="157.70" x2="208.15" y2="197.20" stroke-width="1.15" />
<line x1="174.25" y1="157.70" x2="213.75" y2="197.20" stroke-width="1.15" />
<line x1="179.85" y1="157.70" x2="219.35" y2="197.20" stroke-width="1.15" />
<line x1="185.45" y1="157.70" x2="224.95" y2="197.20" stroke-width="1.15" />
<line x1="191.05" y1="157.70" x2="230.55" y2="197.20" stroke-width="1.15" />
</g>
<clipPath id="hbR"><rect x="164.35" y="158.2" width="6.300000000000011" height="25.0"/></clipPath>
<g clip-path="url(#hbR)">
<line x1="154.35" y1="158.20" x2="129.35" y2="183.20" stroke-width="0.9" />
<line x1="157.35" y1="158.20" x2="132.35" y2="183.20" stroke-width="0.9" />
<line x1="160.35" y1="158.20" x2="135.35" y2="183.20" stroke-width="0.9" />
<line x1="163.35" y1="158.20" x2="138.35" y2="183.20" stroke-width="0.9" />
<line x1="166.35" y1="158.20" x2="141.35" y2="183.20" stroke-width="0.9" />
<line x1="169.35" y1="158.20" x2="144.35" y2="183.20" stroke-width="0.9" />
<line x1="172.35" y1="158.20" x2="147.35" y2="183.20" stroke-width="0.9" />
<line x1="175.35" y1="158.20" x2="150.35" y2="183.20" stroke-width="0.9" />
<line x1="178.35" y1="158.20" x2="153.35" y2="183.20" stroke-width="0.9" />
<line x1="181.35" y1="158.20" x2="156.35" y2="183.20" stroke-width="0.9" />
<line x1="184.35" y1="158.20" x2="159.35" y2="183.20" stroke-width="0.9" />
<line x1="187.35" y1="158.20" x2="162.35" y2="183.20" stroke-width="0.9" />
<line x1="190.35" y1="158.20" x2="165.35" y2="183.20" stroke-width="0.9" />
<line x1="193.35" y1="158.20" x2="168.35" y2="183.20" stroke-width="0.9" />
<line x1="196.35" y1="158.20" x2="171.35" y2="183.20" stroke-width="0.9" />
<line x1="199.35" y1="158.20" x2="174.35" y2="183.20" stroke-width="0.9" />
</g>
<path d="M209.50 195.2 L209.50 160.2 L199.40 160.2 L199.40 157.7 L170.65 157.7 L170.65 149.6 L149.85 149.6 L149.85 159 L136.0 159" stroke-width="1.7"/>
<path d="M170.65 191.6 L149.85 191.6 L149.85 182.6 L136.0 182.6" stroke-width="1.7"/>
<line x1="200.30" y1="160.20" x2="200.30" y2="195.20" stroke-width="1.7" />
<line x1="187.25" y1="157.70" x2="187.25" y2="195.20" stroke-width="1.7" />
<line x1="170.65" y1="157.70" x2="170.65" y2="197.20" stroke-width="1.7" />
<line x1="164.35" y1="149.60" x2="164.35" y2="191.60" stroke-width="1.7" />
<path d="M209.50 195.2 L181.50 195.2 L181.50 197.2 L136.0 197.2" stroke-width="1.7"/>
<line x1="170.65" y1="158.20" x2="164.35" y2="158.20" stroke-width="1.0" />
<line x1="170.65" y1="183.20" x2="164.35" y2="183.20" stroke-width="1.0" />
<line x1="170.65" y1="149.60" x2="164.35" y2="158.20" stroke-width="1.0" />
<line x1="164.35" y1="149.60" x2="170.65" y2="158.20" stroke-width="1.0" />
<line x1="170.65" y1="183.20" x2="164.35" y2="191.60" stroke-width="1.0" />
<line x1="164.35" y1="183.20" x2="170.65" y2="191.60" stroke-width="1.0" />
<rect x="170.65" y="157.7" width="5.45" height="5.7" fill="#fff" stroke="none"/>
<path d="M176.10 157.7 L176.10 163.39999999999998 L170.65 163.39999999999998" stroke-width="1.1"/>
<path d="M175.00 161.29999999999998 L170.65 161.29999999999998" stroke-width="1.7"/>
<path d="M174.00 158.5 L174.00 161.29999999999998" stroke-width="1.2"/>
<line x1="209.50" y1="195.20" x2="209.50" y2="354.60" stroke-width="1.0" />
<line x1="193.70" y1="153.40" x2="193.70" y2="331.50" stroke-width="1.0" />
<line x1="181.50" y1="197.20" x2="181.50" y2="309.50" stroke-width="1.0" />
<line x1="170.70" y1="197.20" x2="170.70" y2="285.00" stroke-width="1.0" />
<line x1="164.60" y1="191.60" x2="164.60" y2="261.50" stroke-width="1.0" />
<line x1="136.00" y1="154.00" x2="136.00" y2="200.00" stroke-width="1.0" />
<line x1="107.40" y1="259.30" x2="164.60" y2="259.30" stroke-width="1.0" />
<polygon points="107.40,259.30 112.90,258.50 112.90,260.10" fill="#000" stroke="none"/>
<polygon points="164.60,259.30 159.10,260.10 159.10,258.50" fill="#000" stroke="none"/>
<text x="0" y="0" font-size="25.5" text-anchor="middle" font-family="'Liberation Serif', serif" fill="#000" stroke="#000" stroke-width="0.3"  transform="translate(135.95 256.30) rotate(0.00) scale(0.97 1)">Ød6</text>
<line x1="101.30" y1="282.00" x2="170.70" y2="282.00" stroke-width="1.0" />
<polygon points="101.30,282.00 106.80,281.20 106.80,282.80" fill="#000" stroke="none"/>
<polygon points="170.70,282.00 165.20,282.80 165.20,281.20" fill="#000" stroke="none"/>
<text x="0" y="0" font-size="25.5" text-anchor="middle" font-family="'Liberation Serif', serif" fill="#000" stroke="#000" stroke-width="0.3"  transform="translate(135.95 278.60) rotate(0.00) scale(0.97 1)">Ød5</text>
<line x1="90.50" y1="307.00" x2="181.50" y2="307.00" stroke-width="1.0" />
<polygon points="90.50,307.00 96.00,306.20 96.00,307.80" fill="#000" stroke="none"/>
<polygon points="181.50,307.00 176.00,307.80 176.00,306.20" fill="#000" stroke="none"/>
<text x="0" y="0" font-size="25.5" text-anchor="middle" font-family="'Liberation Serif', serif" fill="#000" stroke="#000" stroke-width="0.3"  transform="translate(135.95 303.60) rotate(0.00) scale(0.97 1)">Ød2</text>
<line x1="78.30" y1="328.60" x2="193.70" y2="328.60" stroke-width="1.0" />
<polygon points="78.30,328.60 83.80,327.80 83.80,329.40" fill="#000" stroke="none"/>
<polygon points="193.70,328.60 188.20,329.40 188.20,327.80" fill="#000" stroke="none"/>
<text x="0" y="0" font-size="25.5" text-anchor="middle" font-family="'Liberation Serif', serif" fill="#000" stroke="#000" stroke-width="0.3"  transform="translate(135.95 325.20) rotate(0.00) scale(0.97 1)">Ød3</text>
<line x1="62.50" y1="351.80" x2="209.50" y2="351.80" stroke-width="1.0" />
<polygon points="62.50,351.80 68.00,351.00 68.00,352.60" fill="#000" stroke="none"/>
<polygon points="209.50,351.80 204.00,352.60 204.00,351.00" fill="#000" stroke="none"/>
<text x="0" y="0" font-size="25.5" text-anchor="middle" font-family="'Liberation Serif', serif" fill="#000" stroke="#000" stroke-width="0.3"  transform="translate(135.95 348.60) rotate(0.00) scale(0.97 1)">Ød1</text>
<line x1="126.40" y1="171.80" x2="126.40" y2="231.30" stroke-width="1.0" />
<polygon points="126.40,182.30 125.60,176.80 127.20,176.80" fill="#000" stroke="none"/>
<polygon points="126.40,191.60 127.20,197.10 125.60,197.10" fill="#000" stroke="none"/>
<line x1="122.70" y1="191.60" x2="129.70" y2="191.60" stroke-width="1.0" />
<text x="0" y="0" font-size="25.5" text-anchor="middle" font-family="'Liberation Serif', serif" fill="#000" stroke="#000" stroke-width="0.3"  transform="translate(123.50 216.00) rotate(-90.00) scale(0.96 1)">h2</text>
<line x1="41.30" y1="156.90" x2="41.30" y2="207.80" stroke-width="1.0" />
<line x1="38.30" y1="195.30" x2="62.40" y2="195.30" stroke-width="1.0" />
<line x1="38.30" y1="197.20" x2="91.00" y2="197.20" stroke-width="1.0" />
<polygon points="41.30,195.30 40.50,189.80 42.10,189.80" fill="#000" stroke="none"/>
<polygon points="41.30,197.20 42.10,202.70 40.50,202.70" fill="#000" stroke="none"/>
<text x="0" y="0" font-size="25.5" text-anchor="middle" font-family="'Liberation Serif', serif" fill="#000" stroke="#000" stroke-width="0.3"  transform="translate(38.30 171.20) rotate(-90.00) scale(0.96 1)">h3</text>
<line x1="209.20" y1="160.10" x2="266.20" y2="160.10" stroke-width="1.0" />
<line x1="171.00" y1="191.80" x2="209.50" y2="191.80" stroke-width="0.7" stroke="#777"/>
<line x1="209.50" y1="191.80" x2="237.80" y2="191.80" stroke-width="1.0" />
<line x1="209.20" y1="195.10" x2="266.20" y2="195.10" stroke-width="1.0" />
<line x1="234.70" y1="154.30" x2="234.70" y2="205.00" stroke-width="1.0" />
<polygon points="234.70,191.90 233.90,186.40 235.50,186.40" fill="#000" stroke="none"/>
<polygon points="234.70,195.00 235.50,200.50 233.90,200.50" fill="#000" stroke="none"/>
<line x1="263.70" y1="160.10" x2="263.70" y2="195.10" stroke-width="1.0" />
<polygon points="263.70,160.10 264.50,165.60 262.90,165.60" fill="#000" stroke="none"/>
<polygon points="263.70,195.10 262.90,189.60 264.50,189.60" fill="#000" stroke="none"/>
<text x="0" y="0" font-size="25.5" text-anchor="middle" font-family="'Liberation Serif', serif" fill="#000" stroke="#000" stroke-width="0.3"  transform="translate(232.50 168.50) rotate(-90.00) scale(0.9 1)">h1</text>
<text x="0" y="0" font-size="25.5" text-anchor="middle" font-family="'Liberation Serif', serif" fill="#000" stroke="#000" stroke-width="0.3"  transform="translate(261.30 177.75) rotate(-90.00) scale(1 1)">H</text>
<line x1="194.00" y1="196.50" x2="221.40" y2="233.00" stroke-width="1.0" />
<line x1="221.40" y1="233.00" x2="264.00" y2="233.00" stroke-width="1.0" />
<text x="0" y="0" font-size="25.5" text-anchor="start" font-family="'Liberation Serif', serif" fill="#000" stroke="#000" stroke-width="0.3"  transform="translate(225.60 231.00) rotate(0.00) scale(1 1)">n-d7</text>
</svg>
<svg width="800" height="566" viewBox="0 0 800 566" style="position:absolute;left:0;top:0">
<line x1="83" x2="695" y1="378.6" y2="378.6" stroke="#707070" stroke-width="1"/>
<line x1="83" x2="695" y1="392" y2="392" stroke="#707070" stroke-width="1"/>
<line x1="83" x2="695" y1="405.3" y2="405.3" stroke="#707070" stroke-width="1"/>
<line x1="83" x2="695" y1="418.6" y2="418.6" stroke="#707070" stroke-width="1"/>
<line x1="83" x2="695" y1="432" y2="432" stroke="#707070" stroke-width="1"/>
<line x1="83" x2="695" y1="445.3" y2="445.3" stroke="#707070" stroke-width="1"/>
<line x1="83" x2="695" y1="458.5" y2="458.5" stroke="#707070" stroke-width="1"/>
<line x1="83" x2="695" y1="471.5" y2="471.5" stroke="#707070" stroke-width="1"/>
<line x1="83" x2="83" y1="378.6" y2="471.5" stroke="#707070" stroke-width="1"/>
<line x1="132.6" x2="132.6" y1="378.6" y2="458.5" stroke="#707070" stroke-width="1"/>
<line x1="177.6" x2="177.6" y1="378.6" y2="458.5" stroke="#707070" stroke-width="1"/>
<line x1="208" x2="208" y1="378.6" y2="458.5" stroke="#707070" stroke-width="1"/>
<line x1="245.4" x2="245.4" y1="378.6" y2="458.5" stroke="#707070" stroke-width="1"/>
<line x1="275.4" x2="275.4" y1="378.6" y2="458.5" stroke="#707070" stroke-width="1"/>
<line x1="312.6" x2="312.6" y1="378.6" y2="458.5" stroke="#707070" stroke-width="1"/>
<line x1="350" x2="350" y1="378.6" y2="458.5" stroke="#707070" stroke-width="1"/>
<line x1="387.6" x2="387.6" y1="378.6" y2="458.5" stroke="#707070" stroke-width="1"/>
<line x1="425" x2="425" y1="378.6" y2="458.5" stroke="#707070" stroke-width="1"/>
<line x1="485" x2="485" y1="378.6" y2="458.5" stroke="#707070" stroke-width="1"/>
<line x1="522.6" x2="522.6" y1="378.6" y2="458.5" stroke="#707070" stroke-width="1"/>
<line x1="567.6" x2="567.6" y1="378.6" y2="458.5" stroke="#707070" stroke-width="1"/>
<line x1="605.5" x2="605.5" y1="378.6" y2="458.5" stroke="#707070" stroke-width="1"/>
<line x1="642.6" x2="642.6" y1="378.6" y2="458.5" stroke="#707070" stroke-width="1"/>
<line x1="695" x2="695" y1="378.6" y2="471.5" stroke="#707070" stroke-width="1"/>
<text x="155.1" y="388.5" font-size="9.8" text-anchor="middle" font-family="'Liberation Serif', serif" fill="#222">Flange</text>
<text x="192.8" y="388.5" font-size="9.8" text-anchor="middle" font-family="'Liberation Serif', serif" fill="#222">b1</text>
<text x="226.7" y="388.5" font-size="9.8" text-anchor="middle" font-family="'Liberation Serif', serif" fill="#222">b2</text>
<text x="260.4" y="388.5" font-size="9.8" text-anchor="middle" font-family="'Liberation Serif', serif" fill="#222">d1</text>
<text x="294.0" y="388.5" font-size="9.8" text-anchor="middle" font-family="'Liberation Serif', serif" fill="#222">d2</text>
<text x="331.3" y="388.5" font-size="9.8" text-anchor="middle" font-family="'Liberation Serif', serif" fill="#222">d3</text>
<text x="368.8" y="388.5" font-size="9.8" text-anchor="middle" font-family="'Liberation Serif', serif" fill="#222">d5</text>
<text x="406.3" y="388.5" font-size="9.8" text-anchor="middle" font-family="'Liberation Serif', serif" fill="#222">d6</text>
<text x="455.0" y="388.5" font-size="9.8" text-anchor="middle" font-family="'Liberation Serif', serif" fill="#222">n-d7</text>
<text x="503.8" y="388.5" font-size="9.8" text-anchor="middle" font-family="'Liberation Serif', serif" fill="#222">h1</text>
<text x="545.1" y="388.5" font-size="9.8" text-anchor="middle" font-family="'Liberation Serif', serif" fill="#222">h2</text>
<text x="586.5" y="388.5" font-size="9.8" text-anchor="middle" font-family="'Liberation Serif', serif" fill="#222">h3</text>
<text x="624.0" y="388.5" font-size="9.8" text-anchor="middle" font-family="'Liberation Serif', serif" fill="#222">h4</text>
<text x="668.8" y="388.5" font-size="9.8" text-anchor="middle" font-family="'Liberation Serif', serif" fill="#222">H</text>
<text x="107.8" y="401.9" font-size="9.8" text-anchor="middle" font-family="'Liberation Serif', serif" fill="#222">XZA2</text>
<text x="155.1" y="401.9" font-size="9.8" text-anchor="middle" font-family="'Liberation Serif', serif" fill="#222">F10</text>
<text x="192.8" y="401.9" font-size="9.8" text-anchor="middle" font-family="'Liberation Serif', serif" fill="#222">/</text>
<text x="226.7" y="401.9" font-size="9.8" text-anchor="middle" font-family="'Liberation Serif', serif" fill="#222">/</text>
<text x="260.4" y="401.9" font-size="9.8" text-anchor="middle" font-family="'Liberation Serif', serif" fill="#222">125</text>
<text x="294.0" y="401.9" font-size="9.8" text-anchor="middle" font-family="'Liberation Serif', serif" fill="#222">70</text>
<text x="331.3" y="401.9" font-size="9.8" text-anchor="middle" font-family="'Liberation Serif', serif" fill="#222">102</text>
<text x="368.8" y="401.9" font-size="9.8" text-anchor="middle" font-family="'Liberation Serif', serif" fill="#222">50</text>
<text x="406.3" y="401.9" font-size="9.8" text-anchor="middle" font-family="'Liberation Serif', serif" fill="#222">38</text>
<text x="455.0" y="401.9" font-size="9.8" text-anchor="middle" font-family="'Liberation Serif', serif" fill="#222">4-M10</text>
<text x="503.8" y="401.9" font-size="9.8" text-anchor="middle" font-family="'Liberation Serif', serif" fill="#222">2</text>
<text x="545.1" y="401.9" font-size="9.8" text-anchor="middle" font-family="'Liberation Serif', serif" fill="#222">7</text>
<text x="586.5" y="401.9" font-size="9.8" text-anchor="middle" font-family="'Liberation Serif', serif" fill="#222">4</text>
<text x="624.0" y="401.9" font-size="9.8" text-anchor="middle" font-family="'Liberation Serif', serif" fill="#222">/</text>
<text x="668.8" y="401.9" font-size="9.8" text-anchor="middle" font-family="'Liberation Serif', serif" fill="#222">/</text>
<text x="107.8" y="415.2" font-size="9.8" text-anchor="middle" font-family="'Liberation Serif', serif" fill="#222">XZA3</text>
<text x="155.1" y="415.2" font-size="9.8" text-anchor="middle" font-family="'Liberation Serif', serif" fill="#222">F14</text>
<text x="192.8" y="415.2" font-size="9.8" text-anchor="middle" font-family="'Liberation Serif', serif" fill="#222">/</text>
<text x="226.7" y="415.2" font-size="9.8" text-anchor="middle" font-family="'Liberation Serif', serif" fill="#222">/</text>
<text x="260.4" y="415.2" font-size="9.8" text-anchor="middle" font-family="'Liberation Serif', serif" fill="#222">165</text>
<text x="294.0" y="415.2" font-size="9.8" text-anchor="middle" font-family="'Liberation Serif', serif" fill="#222">100</text>
<text x="331.3" y="415.2" font-size="9.8" text-anchor="middle" font-family="'Liberation Serif', serif" fill="#222">140</text>
<text x="368.8" y="415.2" font-size="9.8" text-anchor="middle" font-family="'Liberation Serif', serif" fill="#222">84</text>
<text x="406.3" y="415.2" font-size="9.8" text-anchor="middle" font-family="'Liberation Serif', serif" fill="#222">67</text>
<text x="455.0" y="415.2" font-size="9.8" text-anchor="middle" font-family="'Liberation Serif', serif" fill="#222">4-M16</text>
<text x="503.8" y="415.2" font-size="9.8" text-anchor="middle" font-family="'Liberation Serif', serif" fill="#222">3</text>
<text x="545.1" y="415.2" font-size="9.8" text-anchor="middle" font-family="'Liberation Serif', serif" fill="#222">12</text>
<text x="586.5" y="415.2" font-size="9.8" text-anchor="middle" font-family="'Liberation Serif', serif" fill="#222">3</text>
<text x="624.0" y="415.2" font-size="9.8" text-anchor="middle" font-family="'Liberation Serif', serif" fill="#222">/</text>
<text x="668.8" y="415.2" font-size="9.8" text-anchor="middle" font-family="'Liberation Serif', serif" fill="#222">33</text>
<text x="107.8" y="428.5" font-size="9.8" text-anchor="middle" font-family="'Liberation Serif', serif" fill="#222">XZA4</text>
<text x="155.1" y="428.5" font-size="9.8" text-anchor="middle" font-family="'Liberation Serif', serif" fill="#222">F16</text>
<text x="192.8" y="428.5" font-size="9.8" text-anchor="middle" font-family="'Liberation Serif', serif" fill="#222">/</text>
<text x="226.7" y="428.5" font-size="9.8" text-anchor="middle" font-family="'Liberation Serif', serif" fill="#222">/</text>
<text x="260.4" y="428.5" font-size="9.8" text-anchor="middle" font-family="'Liberation Serif', serif" fill="#222">210</text>
<text x="294.0" y="428.5" font-size="9.8" text-anchor="middle" font-family="'Liberation Serif', serif" fill="#222">130</text>
<text x="331.3" y="428.5" font-size="9.8" text-anchor="middle" font-family="'Liberation Serif', serif" fill="#222">165</text>
<text x="368.8" y="428.5" font-size="9.8" text-anchor="middle" font-family="'Liberation Serif', serif" fill="#222">99</text>
<text x="406.3" y="428.5" font-size="9.8" text-anchor="middle" font-family="'Liberation Serif', serif" fill="#222">81</text>
<text x="455.0" y="428.5" font-size="9.8" text-anchor="middle" font-family="'Liberation Serif', serif" fill="#222">4-M20</text>
<text x="503.8" y="428.5" font-size="9.8" text-anchor="middle" font-family="'Liberation Serif', serif" fill="#222">5</text>
<text x="545.1" y="428.5" font-size="9.8" text-anchor="middle" font-family="'Liberation Serif', serif" fill="#222">14</text>
<text x="586.5" y="428.5" font-size="9.8" text-anchor="middle" font-family="'Liberation Serif', serif" fill="#222">3</text>
<text x="624.0" y="428.5" font-size="9.8" text-anchor="middle" font-family="'Liberation Serif', serif" fill="#222">/</text>
<text x="668.8" y="428.5" font-size="9.8" text-anchor="middle" font-family="'Liberation Serif', serif" fill="#222">50</text>
<text x="107.8" y="441.9" font-size="9.8" text-anchor="middle" font-family="'Liberation Serif', serif" fill="#222">XZA5</text>
<text x="155.1" y="441.9" font-size="9.8" text-anchor="middle" font-family="'Liberation Serif', serif" fill="#222">F30</text>
<text x="192.8" y="441.9" font-size="9.8" text-anchor="middle" font-family="'Liberation Serif', serif" fill="#222">/</text>
<text x="226.7" y="441.9" font-size="9.8" text-anchor="middle" font-family="'Liberation Serif', serif" fill="#222">/</text>
<text x="260.4" y="441.9" font-size="9.8" text-anchor="middle" font-family="'Liberation Serif', serif" fill="#222">350</text>
<text x="294.0" y="441.9" font-size="9.8" text-anchor="middle" font-family="'Liberation Serif', serif" fill="#222">230</text>
<text x="331.3" y="441.9" font-size="9.8" text-anchor="middle" font-family="'Liberation Serif', serif" fill="#222">298</text>
<text x="368.8" y="441.9" font-size="9.8" text-anchor="middle" font-family="'Liberation Serif', serif" fill="#222">126</text>
<text x="406.3" y="441.9" font-size="9.8" text-anchor="middle" font-family="'Liberation Serif', serif" fill="#222">102</text>
<text x="455.0" y="441.9" font-size="9.8" text-anchor="middle" font-family="'Liberation Serif', serif" fill="#222">8-M20</text>
<text x="503.8" y="441.9" font-size="9.8" text-anchor="middle" font-family="'Liberation Serif', serif" fill="#222">3</text>
<text x="545.1" y="441.9" font-size="9.8" text-anchor="middle" font-family="'Liberation Serif', serif" fill="#222">16</text>
<text x="586.5" y="441.9" font-size="9.8" text-anchor="middle" font-family="'Liberation Serif', serif" fill="#222">5</text>
<text x="624.0" y="441.9" font-size="9.8" text-anchor="middle" font-family="'Liberation Serif', serif" fill="#222">/</text>
<text x="668.8" y="441.9" font-size="9.8" text-anchor="middle" font-family="'Liberation Serif', serif" fill="#222">/</text>
<text x="107.8" y="455.2" font-size="9.8" text-anchor="middle" font-family="'Liberation Serif', serif" fill="#222">XZA6</text>
<text x="155.1" y="455.2" font-size="9.8" text-anchor="middle" font-family="'Liberation Serif', serif" fill="#222">F35</text>
<text x="192.8" y="455.2" font-size="9.8" text-anchor="middle" font-family="'Liberation Serif', serif" fill="#222">/</text>
<text x="226.7" y="455.2" font-size="9.8" text-anchor="middle" font-family="'Liberation Serif', serif" fill="#222">/</text>
<text x="260.4" y="455.2" font-size="9.8" text-anchor="middle" font-family="'Liberation Serif', serif" fill="#222">415</text>
<text x="294.0" y="455.2" font-size="9.8" text-anchor="middle" font-family="'Liberation Serif', serif" fill="#222">260</text>
<text x="331.3" y="455.2" font-size="9.8" text-anchor="middle" font-family="'Liberation Serif', serif" fill="#222">356</text>
<text x="368.8" y="455.2" font-size="9.8" text-anchor="middle" font-family="'Liberation Serif', serif" fill="#222">160</text>
<text x="406.3" y="455.2" font-size="9.8" text-anchor="middle" font-family="'Liberation Serif', serif" fill="#222">110</text>
<text x="455.0" y="455.2" font-size="9.8" text-anchor="middle" font-family="'Liberation Serif', serif" fill="#222">8-M30</text>
<text x="503.8" y="455.2" font-size="9.8" text-anchor="middle" font-family="'Liberation Serif', serif" fill="#222">-2</text>
<text x="545.1" y="455.2" font-size="9.8" text-anchor="middle" font-family="'Liberation Serif', serif" fill="#222">27</text>
<text x="586.5" y="455.2" font-size="9.8" text-anchor="middle" font-family="'Liberation Serif', serif" fill="#222">5</text>
<text x="624.0" y="455.2" font-size="9.8" text-anchor="middle" font-family="'Liberation Serif', serif" fill="#222">/</text>
<text x="668.8" y="455.2" font-size="9.8" text-anchor="middle" font-family="'Liberation Serif', serif" fill="#222">/</text>
<text x="87.5" y="468.7" font-size="9.8" font-family="'Liberation Serif', serif" fill="#222">Note: All the data unit of measure is “mm”</text>
</svg>
</body></html>
